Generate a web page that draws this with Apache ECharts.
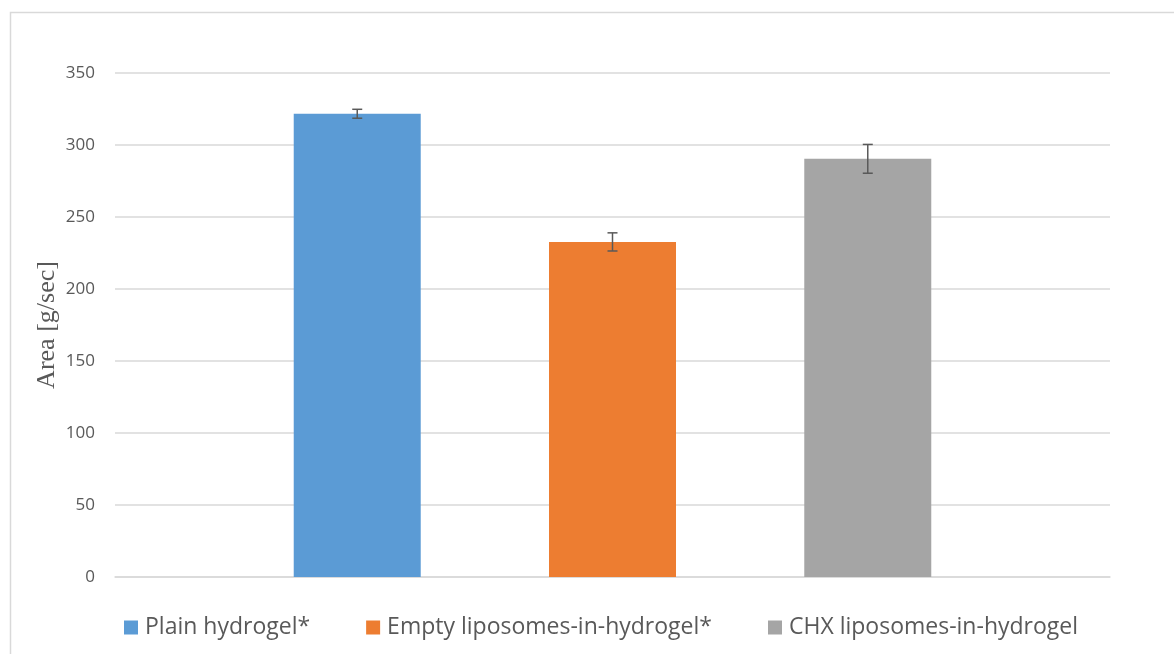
<!DOCTYPE html>
<html>
<head>
<meta charset="utf-8">
<script src="https://cdn.jsdelivr.net/npm/echarts@6/dist/echarts.min.js"></script>
<style>
  html, body { margin: 0; padding: 0; background: #fff; }
  #chart { width: 1174px; height: 654px; }
</style>
</head>
<body>
<div id="chart"></div>
<script>
// data
var groups = ['Plain hydrogel*', 'Empty liposomes-in-hydrogel*', 'CHX liposomes-in-hydrogel'];
var means = [321.7, 232.7, 290.4];
var errors = [3.1, 6.3, 10.0];
var colors = ['#5b9bd5', '#ed7d31', '#a5a5a5'];
var yTicks = [0, 50, 100, 150, 200, 250, 300, 350];

var BAR_W = 127;
var BAR_GAP = '101%';

var myChart = echarts.init(document.getElementById('chart'));

var seriesList = groups.map(function (name, i) {
    return {
        name: name,
        type: 'bar',
        data: [means[i]],
        barWidth: BAR_W,
        barGap: BAR_GAP,
        itemStyle: { color: colors[i] },
        silent: true
    };
});

// error bars, placed with the same bar layout as the bars
var errData = groups.map(function (n, i) {
    return [0, means[i] - errors[i], means[i] + errors[i], i];
});
seriesList.push({
    type: 'custom',
    name: 'err',
    silent: true,
    z: 10,
    data: errData,
    renderItem: function (params, api) {
        var layout = api.barLayout({ barWidth: BAR_W, barGap: BAR_GAP, count: groups.length });
        var idx = api.value(3);
        var lo = api.coord([api.value(0), api.value(1)]);
        var hi = api.coord([api.value(0), api.value(2)]);
        var x = lo[0] + layout[idx].offsetCenter;
        var half = 5;
        var st = { stroke: '#595959', lineWidth: 1.5 };
        return {
            type: 'group',
            children: [
                { type: 'line', shape: { x1: x, y1: hi[1], x2: x, y2: lo[1] }, style: st },
                { type: 'line', shape: { x1: x - half, y1: hi[1], x2: x + half, y2: hi[1] }, style: st },
                { type: 'line', shape: { x1: x - half, y1: lo[1], x2: x + half, y2: lo[1] }, style: st }
            ]
        };
    }
});

var option = {
    animation: false,
    graphic: [{
        type: 'rect',
        left: 8, top: 10,
        shape: { width: 1300, height: 800 },
        style: { fill: 'none', stroke: '#d9d9d9', lineWidth: 1.5 },
        silent: true
    }],
    legend: {
        data: groups,
        bottom: 10,
        left: 119,
        icon: 'rect',
        itemWidth: 14,
        itemHeight: 14,
        itemGap: 56,
        textStyle: { color: '#595959', fontSize: 23, fontFamily: 'Open Sans', padding: [0, 0, 0, 2] }
    },
    grid: { left: 115, right: 64, top: 73, bottom: 77 },
    xAxis: {
        type: 'category',
        data: [''],
        axisTick: { show: false },
        axisLabel: { show: false },
        axisLine: { lineStyle: { color: '#d9d9d9', width: 1.5 } }
    },
    yAxis: {
        type: 'value',
        min: yTicks[0],
        max: yTicks[yTicks.length - 1],
        interval: 50,
        name: 'Area [g/sec]',
        nameLocation: 'middle',
        nameGap: 55,
        nameMoveOverlap: false,
        nameTextStyle: { fontFamily: 'Liberation Serif', fontSize: 26, color: '#595959' },
        axisLine: { show: false },
        axisTick: { show: false },
        axisLabel: { color: '#595959', fontSize: 17, fontFamily: 'Open Sans', margin: 20 },
        splitLine: { lineStyle: { color: '#d9d9d9', width: 1.5 } }
    },
    series: seriesList
};
myChart.setOption(option);
</script>
</body>
</html>
